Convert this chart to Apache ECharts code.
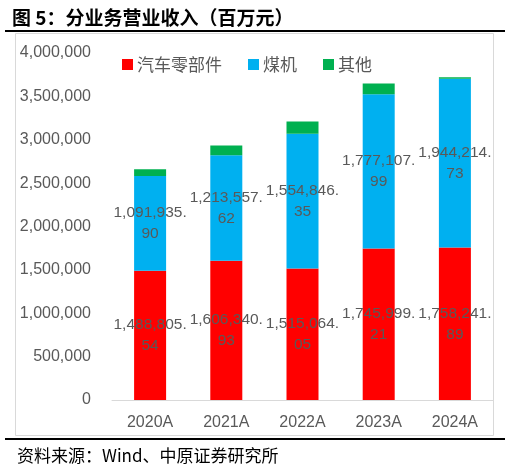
<!DOCTYPE html>
<html>
<head>
<meta charset="utf-8">
<script src="https://cdn.jsdelivr.net/npm/echarts@6/dist/echarts.min.js"></script>
<style>
html,body{margin:0;padding:0;background:#fff;}
#c{width:510px;height:471px;}
</style>
</head>
<body>
<div id="c"></div>
<script>
const categories = ['2020A','2021A','2022A','2023A','2024A'];
const autoParts = [1488805.54, 1606340.93, 1515064.05, 1745999.21, 1758241.89];
const coalMachine = [1091935.90, 1213557.62, 1554846.35, 1777107.99, 1944214.73];
const others = [80000, 115000, 140000, 125000, 18000];
const yTicks = [0, 500000, 1000000, 1500000, 2000000, 2500000, 3000000, 3500000, 4000000];

function fmt(v){
  const s = v.toFixed(2);
  const parts = s.split('.');
  const intPart = parts[0].replace(/\B(?=(\d{3})+(?!\d))/g, ',');
  return intPart + '.\n' + parts[1];
}
function fmtAxis(v){
  return String(v).replace(/\B(?=(\d{3})+(?!\d))/g, ',');
}

const chart = echarts.init(document.getElementById('c'));
const lbl = {
  show: true,
  position: 'inside',
  color: '#595959',
  fontSize: 15.5,
  lineHeight: 21,
  fontFamily: 'Liberation Sans, Arial, sans-serif',
  formatter: p => fmt(p.value)
};
chart.setOption({
  animation: false,
  backgroundColor: '#fff',
  title: {
    text: '图 5：分业务营业收入（百万元）',
    left: 7, top: 3,
    textStyle: {fontSize: 19, fontWeight: 'bold', color: '#000', fontFamily: 'Noto Sans CJK SC'}
  },
  graphic: [
    {type: 'rect', shape: {x: 15.5, y: 33.5, width: 478, height: 402}, style: {fill: 'none', stroke: '#d9d9d9', lineWidth: 1}, z: -1},
    {type: 'line', shape: {x1: 5, y1: 31, x2: 505, y2: 31}, style: {stroke: '#000', lineWidth: 2}},
    {type: 'line', shape: {x1: 5, y1: 439, x2: 505, y2: 439}, style: {stroke: '#000', lineWidth: 2}},
    {type: 'text', left: 17, top: 447, style: {text: '资料来源：Wind、中原证券研究所', fontSize: 17, fill: '#000', fontFamily: 'Noto Sans CJK SC'}}
  ],
  legend: {
    data: ['汽车零部件','煤机','其他'],
    left: 117, top: 51,
    itemWidth: 11, itemHeight: 11, itemGap: 26,
    icon: 'rect',
    textStyle: {fontSize: 17, color: '#595959', padding: [0,0,0,-1], fontFamily: 'Noto Sans CJK SC'}
  },
  grid: {left: 112, right: 17, top: 53, bottom: 71},
  xAxis: {
    type: 'category',
    data: categories,
    axisLine: {lineStyle: {color: '#d9d9d9'}},
    axisTick: {show: false},
    axisLabel: {fontSize: 16, color: '#595959', margin: 15, fontFamily: 'Liberation Sans, Arial, sans-serif'}
  },
  yAxis: {
    type: 'value',
    min: yTicks[0], max: yTicks[yTicks.length-1], interval: yTicks[1]-yTicks[0],
    axisLine: {show: false},
    axisTick: {show: false},
    splitLine: {show: false},
    axisLabel: {fontSize: 16, color: '#595959', margin: 21, formatter: fmtAxis, fontFamily: 'Liberation Sans, Arial, sans-serif'}
  },
  series: [
    {name: '汽车零部件', type: 'bar', stack: 's', data: autoParts, barWidth: '42%', itemStyle: {color: '#FF0000'}, label: lbl},
    {name: '煤机', type: 'bar', stack: 's', data: coalMachine, itemStyle: {color: '#00B0F0'}, label: lbl},
    {name: '其他', type: 'bar', stack: 's', data: others, itemStyle: {color: '#00B050'}}
  ]
});
</script>
</body>
</html>
